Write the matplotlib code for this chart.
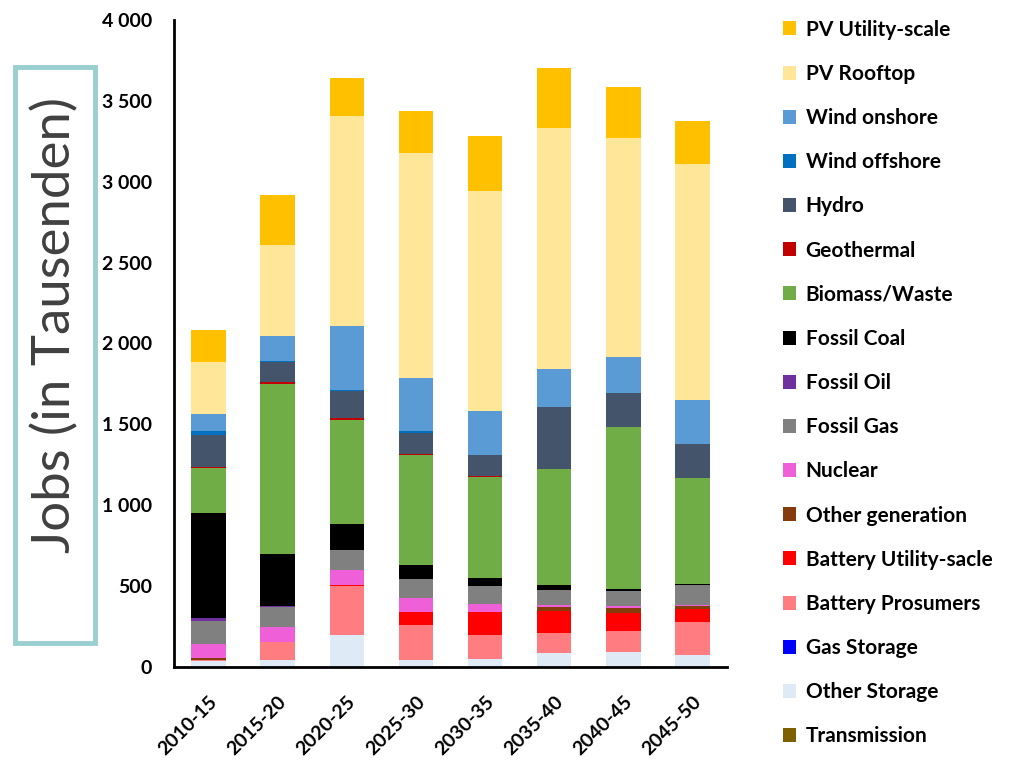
import matplotlib
matplotlib.use("Agg")
import matplotlib.pyplot as plt
import numpy as np
from matplotlib.patches import Rectangle, Patch
from matplotlib.ticker import FuncFormatter

plt.rcParams["font.family"] = ["Lato", "DejaVu Sans"]

periods = ["2010-15", "2015-20", "2020-25", "2025-30", "2030-35", "2035-40", "2040-45", "2045-50"]

# stacked bottom -> top, jobs in thousands
transmission   = [0, 0, 0, 0, 0, 0, 0, 0]
other_storage  = [40, 43, 198, 43, 50, 85, 95, 76]
gas_storage    = [0, 0, 0, 0, 0, 0, 0, 0]
batt_prosumers = [3, 114, 300, 217, 148, 124, 130, 203]
batt_utility   = [0, 0, 8, 79, 141, 138, 108, 79]
other_gen      = [10, 0, 0, 0, 0, 21, 33, 18]
nuclear        = [88, 93, 95, 87, 52, 14, 10, 8]
fossil_gas     = [146, 118, 124, 118, 107, 97, 95, 120]
fossil_oil     = [15, 10, 0, 0, 0, 0, 0, 0]
fossil_coal    = [651, 322, 157, 84, 52, 28, 11, 9]
biomass        = [279, 1048, 647, 684, 622, 719, 1004, 657]
geothermal     = [3, 11, 9, 2, 8, 0, 0, 0]
hydro          = [198, 128, 170, 135, 130, 384, 211, 211]
wind_offshore  = [25, 3, 5, 10, 0, 0, 0, 0]
wind_onshore   = [108, 159, 397, 326, 273, 235, 219, 272]
pv_rooftop     = [322, 558, 1294, 1393, 1358, 1490, 1357, 1455]
pv_utility     = [194, 308, 239, 261, 343, 368, 312, 269]

series = [
    ("Transmission", transmission, "#7F6000"),
    ("Other Storage", other_storage, "#DEEBF7"),
    ("Gas Storage", gas_storage, "#0000FF"),
    ("Battery Prosumers", batt_prosumers, "#FF7C80"),
    ("Battery Utility-sacle", batt_utility, "#FF0000"),
    ("Other generation", other_gen, "#843C0C"),
    ("Nuclear", nuclear, "#EE5FD8"),
    ("Fossil Gas", fossil_gas, "#808080"),
    ("Fossil Oil", fossil_oil, "#7030A0"),
    ("Fossil Coal", fossil_coal, "#000000"),
    ("Biomass/Waste", biomass, "#70AD47"),
    ("Geothermal", geothermal, "#C00000"),
    ("Hydro", hydro, "#44546A"),
    ("Wind offshore", wind_offshore, "#0070C0"),
    ("Wind onshore", wind_onshore, "#5B9BD5"),
    ("PV Rooftop", pv_rooftop, "#FFE699"),
    ("PV Utility-scale", pv_utility, "#FFC000"),
]

fig = plt.figure(figsize=(10.19, 7.67), dpi=100)
fig.patch.set_facecolor("white")
ax = fig.add_axes([174/1019, 1-667/767, (727-174)/1019, (667-20)/767])

x = np.arange(len(periods))
bottom = np.zeros(len(periods))
for name, vals, col in series:
    ax.bar(x, vals, 0.5, bottom=bottom, color=col, edgecolor="none", label=name)
    bottom += np.array(vals)

ax.set_xlim(-0.5, 7.5)
ax.set_ylim(0, 4000)
ax.set_yticks(np.arange(0, 4001, 500))
ax.yaxis.set_major_formatter(FuncFormatter(lambda v, p: f"{int(v):,}".replace(",", " ")))
ax.set_xticks(x)
ax.set_xticklabels(periods, rotation=45, ha="right", va="top", rotation_mode="anchor")
ax.tick_params(axis="both", length=0, labelsize=14)
ax.tick_params(axis="y", pad=16)
ax.tick_params(axis="x", pad=19)
for t in ax.get_xticklabels() + ax.get_yticklabels():
    t.set_fontweight("bold")
for s in ["top", "right"]:
    ax.spines[s].set_visible(False)
for s in ["left", "bottom"]:
    ax.spines[s].set_linewidth(2)

# y label in teal box
fig.patches.append(Rectangle((15/1019, 1-643/767), 80/1019, 576/767, transform=fig.transFigure,
                             facecolor="none", edgecolor="#9ACFD0", lw=3.5))
fig.text(55/1019, 1-325/767, "Jobs (in Tausenden)", rotation=90, ha="center", va="center",
         fontsize=38, color="#404040")

handles = [Patch(facecolor=c, edgecolor="none") for _, _, c in series][::-1]
labels = [n for n, _, _ in series][::-1]
fig.legend(handles, labels, loc="upper left", bbox_to_anchor=(764/1019, 1-1/767), frameon=False,
           prop={"weight": "bold", "size": 15}, handlelength=0.65, handleheight=0.65,
           handletextpad=0.45, labelspacing=1.16)

fig.savefig("out.png", dpi=100, facecolor="white")
